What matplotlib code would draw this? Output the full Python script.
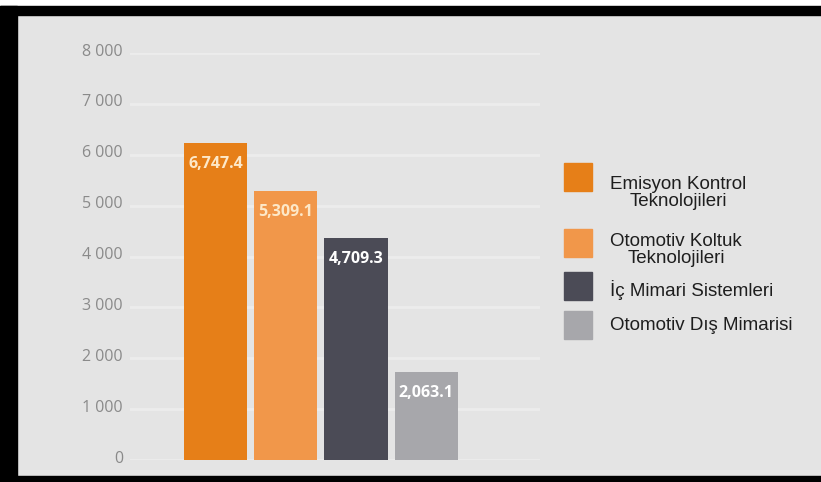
import matplotlib.pyplot as plt
from matplotlib.patches import Rectangle
from matplotlib.ticker import FuncFormatter
from matplotlib.transforms import ScaledTranslation

categories = ["Emisyon Kontrol\nTeknolojileri", "Otomotiv Koltuk\nTeknolojileri",
              "İç Mimari Sistemleri", "Otomotiv Dış Mimarisi"]
bar_heights = [6230, 5280, 4370, 1720]
value_labels = ["6,747.4", "5,309.1", "4,709.3", "2,063.1"]
yticks = [0, 1000, 2000, 3000, 4000, 5000, 6000, 7000, 8000]

colors = ["#e67f18", "#f1974a", "#4b4b56", "#a7a7ab"]
label_colors = ["#fde8c8", "#fde8c8", "#ffffff", "#ffffff"]

W, H = 821, 482
fig = plt.figure(figsize=(W / 100, H / 100), dpi=100)
fig.patch.set_facecolor("#e4e4e4")


def fx(x):
    return x / W


def fy(y):
    return 1 - y / H


# frame: white strip on top, black bands top / left / bottom
fig.add_artist(Rectangle((0, fy(6)), 1, 6 / H, transform=fig.transFigure,
                         color="white", zorder=0))
fig.add_artist(Rectangle((0, fy(15)), 1, 9 / H, transform=fig.transFigure,
                         color="black", zorder=0))
fig.add_artist(Rectangle((0, 0), 17 / W, 1 - 6 / H, transform=fig.transFigure,
                         color="black", zorder=0))
fig.add_artist(Rectangle((0, 0), 1, 6 / H, transform=fig.transFigure,
                         color="black", zorder=0))

ax = fig.add_axes([fx(130), fy(460), (540 - 130) / W, (460 - 53) / H])
ax.set_facecolor("none")
ax.set_ylim(0, 8000)
ax.set_xlim(-1.216, 4.616)

x = list(range(len(categories)))
bars = ax.bar(x, bar_heights, width=0.9, color=colors, zorder=3)

for b, lab, c in zip(bars, value_labels, label_colors):
    ax.annotate(lab, (b.get_x() + b.get_width() / 2, b.get_height()),
                xytext=(0, -15), textcoords="offset points",
                ha="center", va="center", color=c, fontsize=11.5,
                fontweight="bold", family="Open Sans", zorder=4)

ax.set_yticks(yticks)
ax.yaxis.set_major_formatter(FuncFormatter(lambda v, p: f"{v:,.0f}".replace(",", " ")))
ax.set_xticks([])
ax.tick_params(axis="y", length=0, pad=5, labelsize=11.5, labelcolor="#8a8a8a")
off = ScaledTranslation(0, 2.5 / 72, fig.dpi_scale_trans)
for t in ax.get_yticklabels():
    t.set_family("Open Sans")
    t.set_transform(t.get_transform() + off)
ax.grid(axis="y", color="#ececec", linewidth=2, zorder=1)
for s in ax.spines.values():
    s.set_visible(False)

# legend, drawn by hand
square_tops = [163, 229, 272, 311]
text_centers = [193, 250, 290, 325]
for cat, c, top, ty in zip(categories, colors, square_tops, text_centers):
    fig.add_artist(Rectangle((fx(564), fy(top + 28)), 28 / W, 28 / H,
                             transform=fig.transFigure, color=c))
    fig.text(fx(610), fy(ty), cat, ha="left", va="center", ma="center",
             fontsize=13.5, color="#1e1e1e", family="Liberation Sans",
             linespacing=1.0)

fig.savefig("out.png", dpi=100, facecolor=fig.get_facecolor())
